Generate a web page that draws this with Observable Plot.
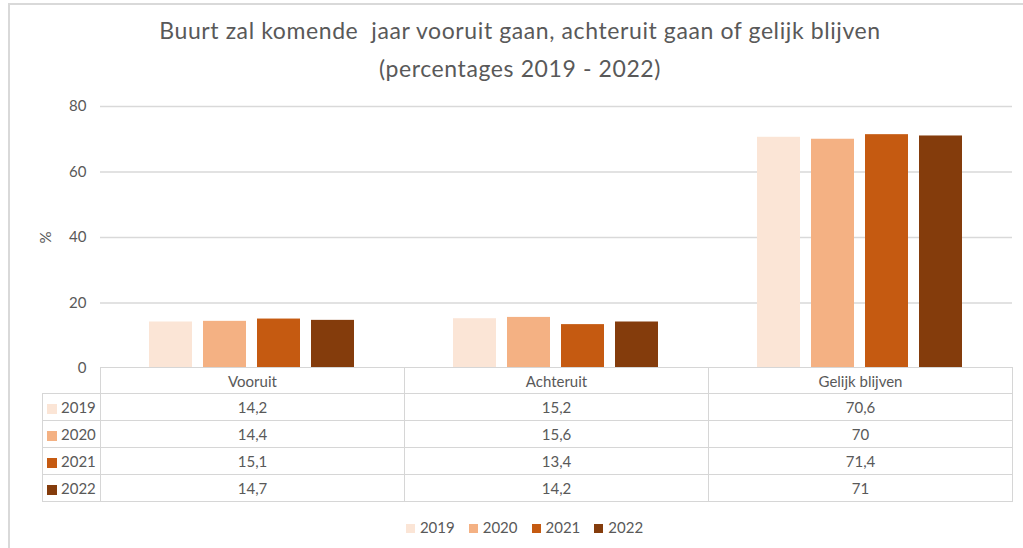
<!DOCTYPE html>
<html>
<head>
<meta charset="utf-8">
<script src="https://cdn.jsdelivr.net/npm/d3@7"></script>
<script src="https://cdn.jsdelivr.net/npm/@observablehq/plot@0.6"></script>
<style>
  html, body { margin: 0; padding: 0; background: #fff; }
  body { width: 1023px; height: 548px; overflow: hidden; position: relative; font-family: Lato, "Open Sans", sans-serif; color: #595959; }
  #frame { position: absolute; left: 8px; top: 3px; width: 1100px; height: 600px; border-left: 2px solid #d9d9d9; border-top: 2px solid #d9d9d9; box-sizing: border-box; }
  .title { position: absolute; left: 0; width: 1040px; text-align: center; font-size: 23px; line-height: 23px; letter-spacing: 0.6px; white-space: pre; color: #595959; }
  #chart { position: absolute; left: 0; top: 0; }
  #tbl { position: absolute; left: 42px; top: 367px; border-collapse: collapse; table-layout: fixed; font-size: 15px; color: #595959; }
  #tbl td { border: 1px solid #d6d6d6; text-align: center; padding: 0; height: 26px; }
  #tbl tr.hdr td { height: 25px; }
  #tbl td.empty { border: none; border-right: 1px solid #d6d6d6; border-bottom: 1px solid #d6d6d6; }
  #tbl td.key { text-align: left; padding-left: 4px; }
  .sw { display: inline-block; width: 10px; height: 10px; margin-right: 4px; vertical-align: -1px; }
  #legend { position: absolute; left: 0; width: 1049px; top: 518px; text-align: center; font-size: 15px; color: #595959; }
  #legend span.item { margin: 0 7px; }
  .lsw { display: inline-block; width: 9px; height: 9px; margin-right: 5px; vertical-align: 0px; }
</style>
</head>
<body>
<div id="frame"></div>
<div class="title" style="top:19px">Buurt zal komende  jaar vooruit gaan, achteruit gaan of gelijk blijven</div>
<div class="title" style="top:57px">(percentages 2019 - 2022)</div>
<div id="chart"></div>
<table id="tbl"></table>
<div id="legend"></div>
<script>
const categories = ["Vooruit", "Achteruit", "Gelijk blijven"];
const years = ["2019", "2020", "2021", "2022"];
const values2019 = [14.2, 15.2, 70.6];
const values2020 = [14.4, 15.6, 70];
const values2021 = [15.1, 13.4, 71.4];
const values2022 = [14.7, 14.2, 71];
const yTicks = [0, 20, 40, 60, 80];
const colors = ["#FBE5D6", "#F4B183", "#C55A11", "#843C0C"];

const series = [values2019, values2020, values2021, values2022];
const data = years.flatMap((yr, i) => categories.map((c, j) => ({cat: c, year: yr, value: series[i][j]})));
const fmt = v => String(v).replace(".", ",");

const chart = Plot.plot({
  width: 1023,
  height: 382,
  marginTop: 106,
  marginBottom: 14,
  marginLeft: 100,
  marginRight: 11,
  style: {fontFamily: "Lato, 'Open Sans', sans-serif", fontSize: "15px", color: "#595959", background: "transparent"},
  fx: {domain: categories, padding: 0, axis: null},
  x: {domain: years, paddingInner: 0.2, paddingOuter: 0.864, axis: null},
  y: {domain: [0, 80], axis: null},
  color: {domain: years, range: colors},
  marks: [
    Plot.ruleY(yTicks.slice(1), {stroke: "#d9d9d9", strokeWidth: 1.5}),
    Plot.barY(data, {fx: "cat", x: "year", y: "value", fill: "year"}),
    Plot.axisY(yTicks, {tickSize: 0, tickPadding: 14, fill: "#595959", fontSize: 15, label: "%", labelAnchor: "center", labelOffset: 60, labelArrow: "none"})
  ]
});
document.getElementById("chart").appendChild(chart);

// data table
const tbl = document.getElementById("tbl");
const colW = [58, 304, 304, 304];
const cg = document.createElement("colgroup");
colW.forEach(w => { const c = document.createElement("col"); c.style.width = w + "px"; cg.appendChild(c); });
tbl.appendChild(cg);
const hdr = document.createElement("tr");
hdr.className = "hdr";
const e = document.createElement("td"); e.className = "empty"; hdr.appendChild(e);
categories.forEach(c => { const td = document.createElement("td"); td.textContent = c; hdr.appendChild(td); });
tbl.appendChild(hdr);
years.forEach((yr, i) => {
  const tr = document.createElement("tr");
  const k = document.createElement("td"); k.className = "key";
  k.innerHTML = `<span class="sw" style="background:${colors[i]}"></span>${yr}`;
  tr.appendChild(k);
  series[i].forEach(v => { const td = document.createElement("td"); td.textContent = fmt(v); tr.appendChild(td); });
  tbl.appendChild(tr);
});

// legend
const lg = document.getElementById("legend");
lg.innerHTML = years.map((yr, i) => `<span class="item"><span class="lsw" style="background:${colors[i]}"></span>${yr}</span>`).join("");
</script>
</body>
</html>
